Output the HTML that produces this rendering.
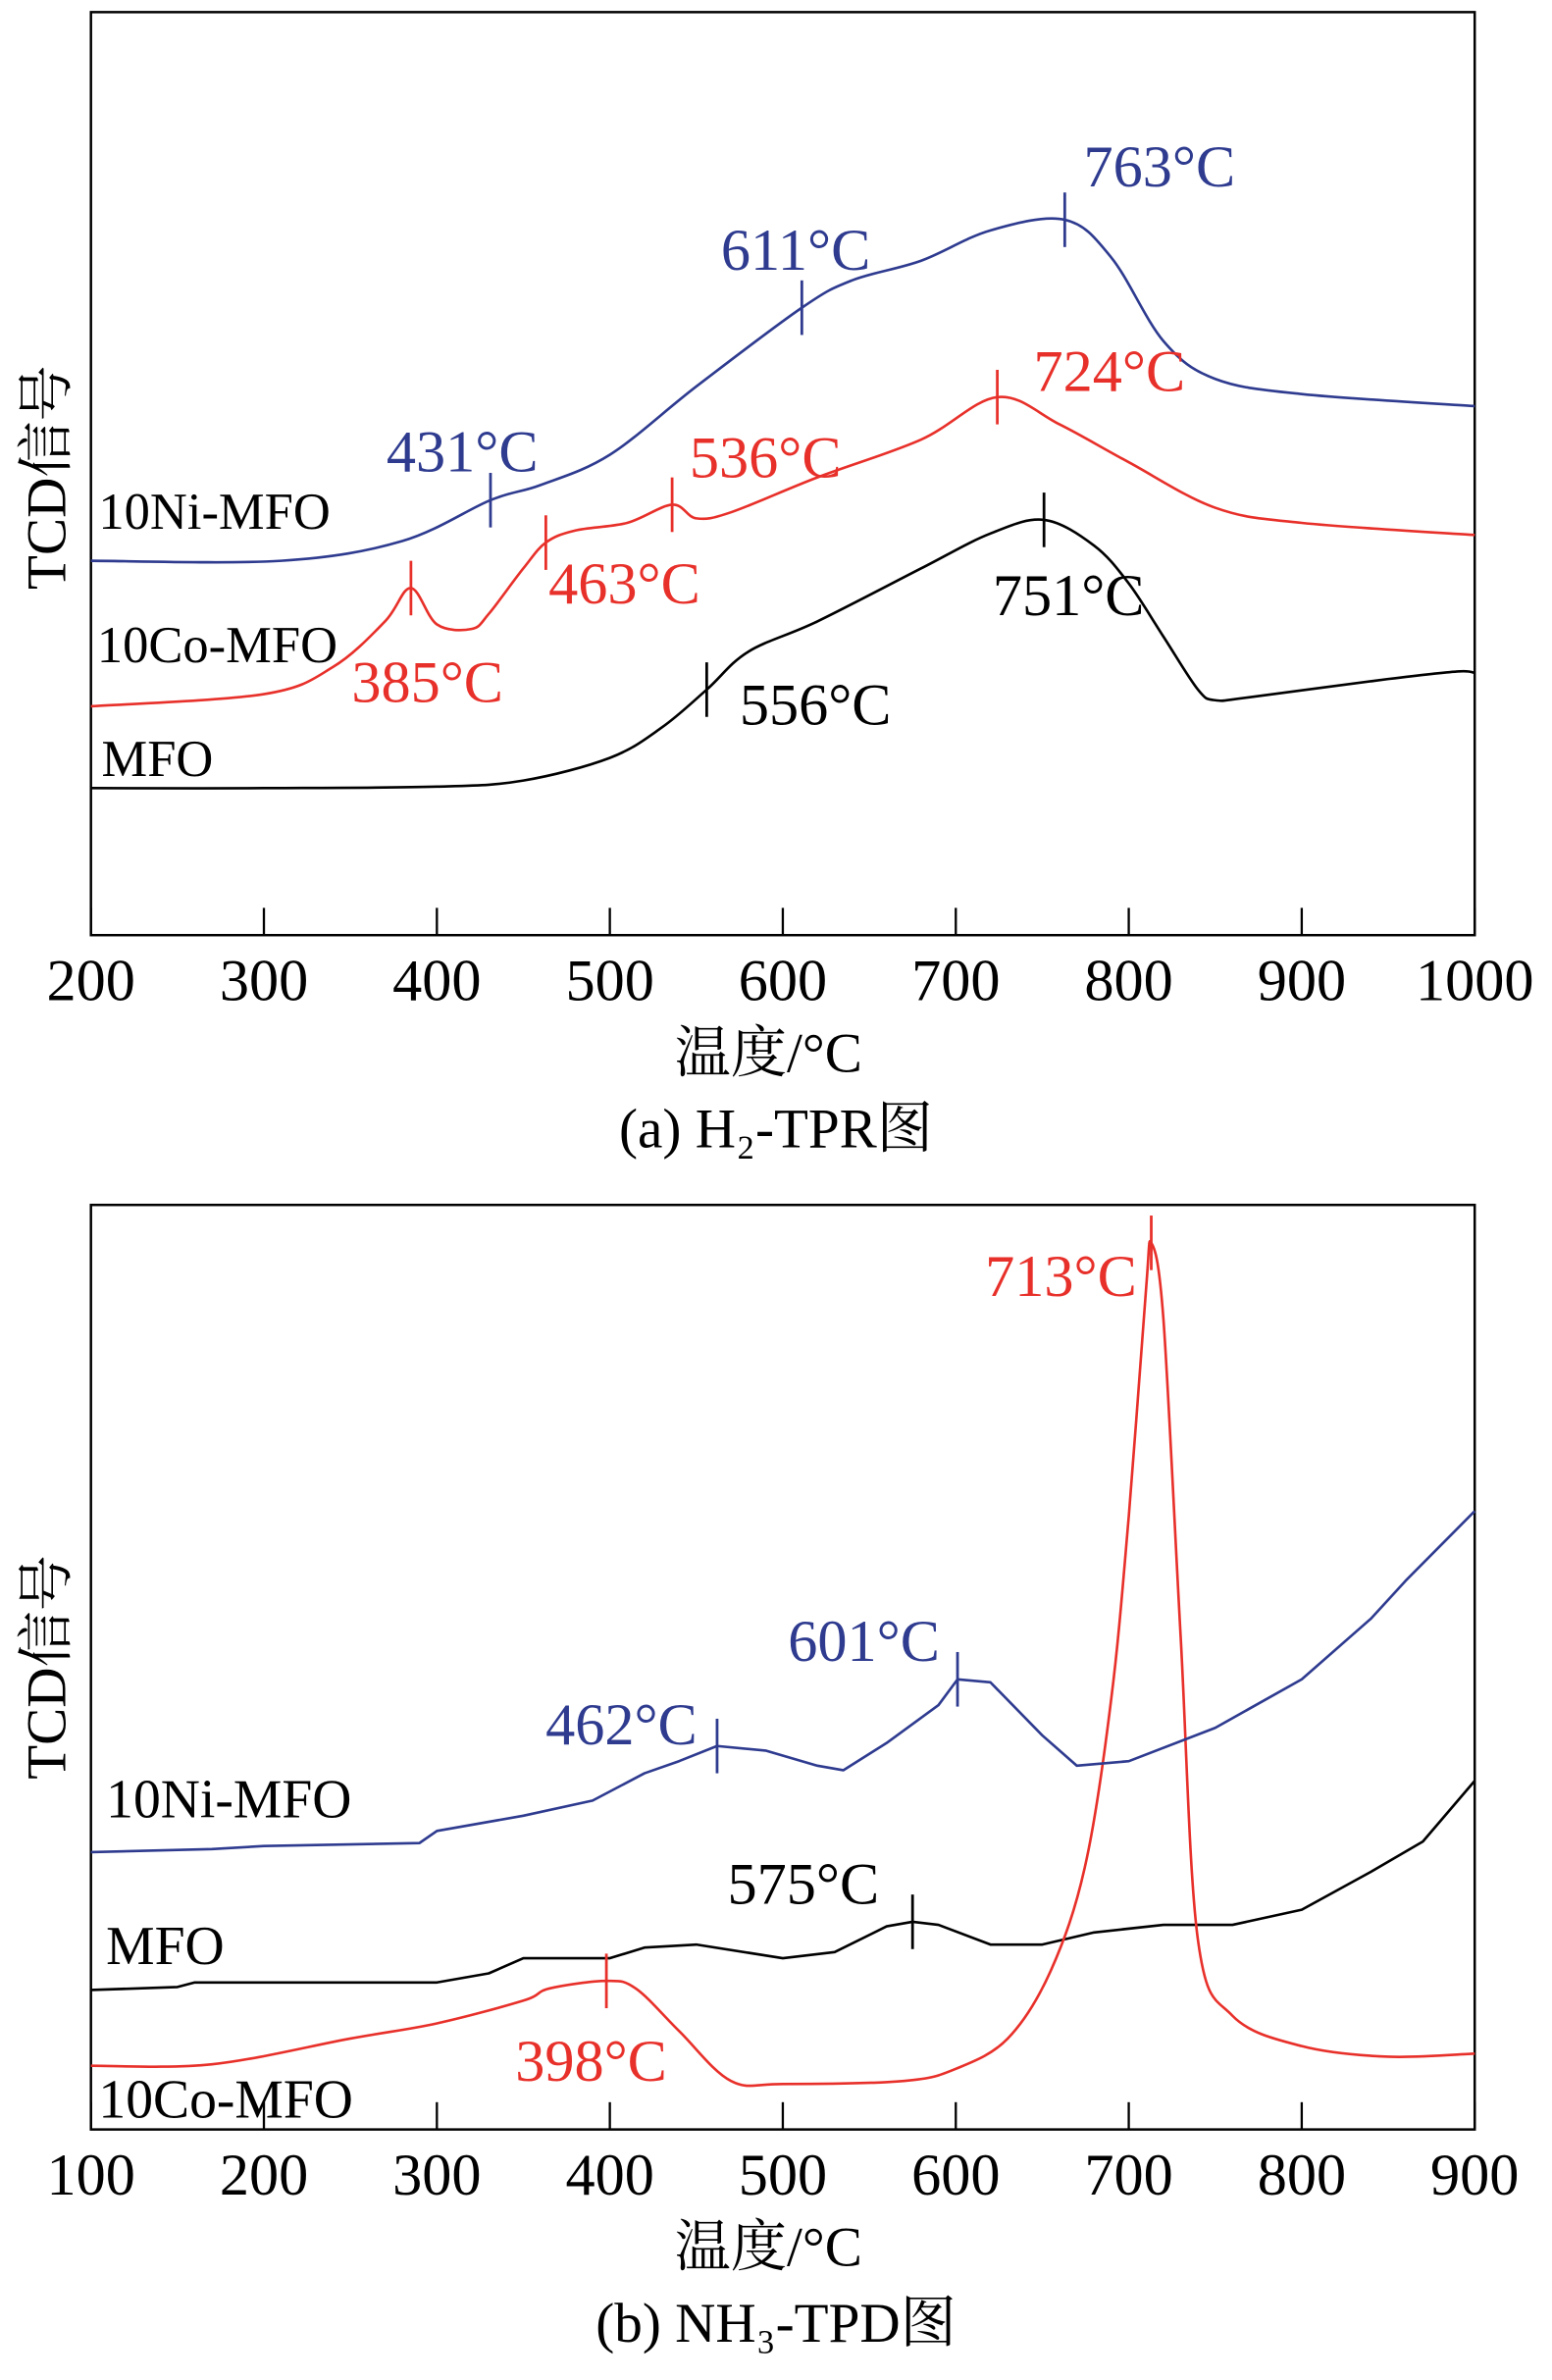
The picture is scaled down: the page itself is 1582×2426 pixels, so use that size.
<!DOCTYPE html>
<html><head><meta charset="utf-8"><style>
html,body{margin:0;padding:0;background:#fff}
svg{display:block}
text{font-family:"Liberation Serif","Noto Serif CJK SC",serif}
</style></head><body>
<svg id="fig" width="1582" height="2426" viewBox="0 0 1024 1570.3" xmlns="http://www.w3.org/2000/svg"></svg>
<script>
// ---- Panel (a) H2-TPR data ----
const aTicks=[200,300,400,500,600,700,800,900,1000];
const aMfoT=[200,300,400,450,500,530,556,580,620,680,720,751,780,800,820,840,850,870,950,990,1000];
const aMfoV=[97,97,98,102,117,137,162,187,207,242,265,274,257,232,197,162,155,157,169,174,173];
const aCoT=[200,300,340,370,385,400,420,430,450,463,480,510,536,550,570,620,680,724,760,800,850,900,1000];
const aCoV=[151,159,177,207,229,205,202,212,242,259,267,272,284,275,279,302,327,355,337,312,282,272,264];
const aNiT=[200,310,380,431,460,500,550,611,640,680,720,763,790,820,850,900,1000];
const aNiV=[247,247,260,287,297,317,362,414,432,445,465,472,447,392,367,357,349];
const aPeaks=[[763,"#2e3b8f",765,110],[611,"#2e3b8f",525,165],[431,"#2e3b8f",305,298],[724,"#e8302a",732,245],[536,"#e8302a",505,302],[463,"#e8302a",412,385],[385,"#e8302a",282,450],[751,"#000",705,393],[556,"#000",538,465]];
// ---- Panel (b) NH3-TPD data ----
const bTicks=[100,200,300,400,500,600,700,800,900];
const bCoT=[100,170,250,300,350,365,398,415,440,470,500,570,600,630,655,675,690,700,710,713,720,730,740,760,800,850,900];
const bCoV=[42,43,60,70,85,93,98,93,65,32,30,32,40,60,105,175,285,405,555,585,535,325,125,75,55,48,50];
const bMfoT=[100,150,160,300,330,350,400,420,450,500,530,560,575,590,620,650,680,720,760,800,840,870,900];
const bMfoV=[92,94,97,97,103,113,113,120,122,113,117,134,137,135,122,122,130,135,135,145,170,190,230];
const bNiT=[100,170,200,290,300,350,390,420,440,462,490,520,535,560,590,601,620,650,670,700,750,800,840,860,880,900];
const bNiV=[183,185,187,189,197,207,217,235,243,253,250,240,237,255,280,297,295,260,240,243,265,297,337,362,385,408];
const bPeaks=[[713,"#e8302a",700,842],[601,"#2e3b8f",570,1083],[462,"#2e3b8f",410,1138],[575,"#000",530,1243],[398,"#e8302a",390,1360]];

const NS="http://www.w3.org/2000/svg";
const svg=document.getElementById('fig');
function mk(tag,attrs,parent){const e=document.createElementNS(NS,tag);for(const k in attrs)e.setAttribute(k,attrs[k]);(parent||svg).appendChild(e);return e;}
function txt(s,x,y,size,fill,anchor,parent){const t=mk('text',{x:x,y:y,'font-size':size,fill:fill,'text-anchor':anchor||'middle'},parent);t.textContent=s;return t;}
function interp(T,V,t){for(let i=0;i<T.length-1;i++){if(t>=T[i]&&t<=T[i+1]){return V[i]+(V[i+1]-V[i])*(t-T[i])/(T[i+1]-T[i]);}}return V[V.length-1];}
function smoothPath(pts){let d='M'+pts[0][0]+','+pts[0][1];for(let i=0;i<pts.length-1;i++){const p0=pts[Math.max(0,i-1)],p1=pts[i],p2=pts[i+1],p3=pts[Math.min(pts.length-1,i+2)];const c1=[p1[0]+(p2[0]-p0[0])/6,p1[1]+(p2[1]-p0[1])/6],c2=[p2[0]-(p3[0]-p1[0])/6,p2[1]-(p3[1]-p1[1])/6];d+=` C${c1[0].toFixed(1)},${c1[1].toFixed(1)} ${c2[0].toFixed(1)},${c2[1].toFixed(1)} ${p2[0].toFixed(1)},${p2[1].toFixed(1)}`;}return d;}

function panel(cfg){
  const g=mk('g',{});
  
  
  const L=60,R=973,top=cfg.top,bot=cfg.bot;
  const xs=t=>L+(t-cfg.x0)*(R-L)/(cfg.x1-cfg.x0);
  const ys=v=>bot-v;
  const box=mk('rect',{x:L,y:top,width:R-L,height:bot-top,fill:'none',stroke:'#000','stroke-width':1.6},g);
  
  
  cfg.ticks.forEach(t=>{
    const l=mk('line',{x1:xs(t),x2:xs(t),y1:bot,y2:bot-18,stroke:'#000','stroke-width':1.5},g);
    
    
    const tl=txt(String(t),xs(t),bot+43,39,'#000','middle',g);
    
    
  });
  cfg.series.forEach(s=>{
    const pts=s.T.map((t,i)=>[xs(t),ys(s.V[i])]);
    const p=mk('path',{d:s.smooth?smoothPath(pts):('M'+pts.map(p=>p[0].toFixed(1)+','+p[1].toFixed(1)).join(' L')),fill:'none',stroke:s.color,'stroke-width':1.7,'stroke-linejoin':'round'},g);
    
    
    const lb=txt(s.label,s.lx,s.ly,cfg.lsize,'#000','start',g);
    
    
  });
  cfg.peaks.forEach(pk=>{
    const s=cfg.series.find(q=>q.color===pk[1]);
    const y=ys(interp(s.T,s.V,pk[0]));
    const m=mk('line',{x1:xs(pk[0]),x2:xs(pk[0]),y1:y-18,y2:y+18,stroke:pk[1],'stroke-width':1.8},g);
    
    
    const t=txt(pk[0]+'°C',pk[2],pk[3]+13,39,pk[1],'middle',g);
    
    
  });
  const xt=txt('温度/°C',507,cfg.bot+90,37,'#000','middle',g);
  
  
  const cap=txt(cfg.caption,512,cfg.bot+140,37,'#000','middle',g);
  
  
  const yt=txt('TCD信号',0,0,37,'#000','middle',g);
  yt.setAttribute('transform',`translate(43,${cfg.ymid}) rotate(-90)`);
  
  
}
panel({name:'panel-a-h2-tpr',top:8,bot:617,x0:200,x1:1000,ticks:aTicks,caption:'(a) H₂-TPR图',ymid:315,lsize:34,peaks:aPeaks,
  series:[{id:'mfo-curve',T:aMfoT,V:aMfoV,color:'#000',label:'MFO',lx:67,ly:512,smooth:true},
          {id:'co-mfo-curve',T:aCoT,V:aCoV,color:'#e8302a',label:'10Co-MFO',lx:64,ly:437,smooth:true},
          {id:'ni-mfo-curve',T:aNiT,V:aNiV,color:'#2e3b8f',label:'10Ni-MFO',lx:65,ly:349,smooth:true}]});
panel({name:'panel-b-nh3-tpd',top:795,bot:1405,x0:100,x1:900,ticks:bTicks,caption:'(b) NH₃-TPD图',ymid:1100,lsize:36,peaks:bPeaks,
  series:[{id:'mfo-curve-b',T:bMfoT,V:bMfoV,color:'#000',label:'MFO',lx:70,ly:1296,smooth:false},
          {id:'co-mfo-curve-b',T:bCoT,V:bCoV,color:'#e8302a',label:'10Co-MFO',lx:65,ly:1397,smooth:true},
          {id:'ni-mfo-curve-b',T:bNiT,V:bNiV,color:'#2e3b8f',label:'10Ni-MFO',lx:70,ly:1199,smooth:false}]});
</script>
</body></html>
